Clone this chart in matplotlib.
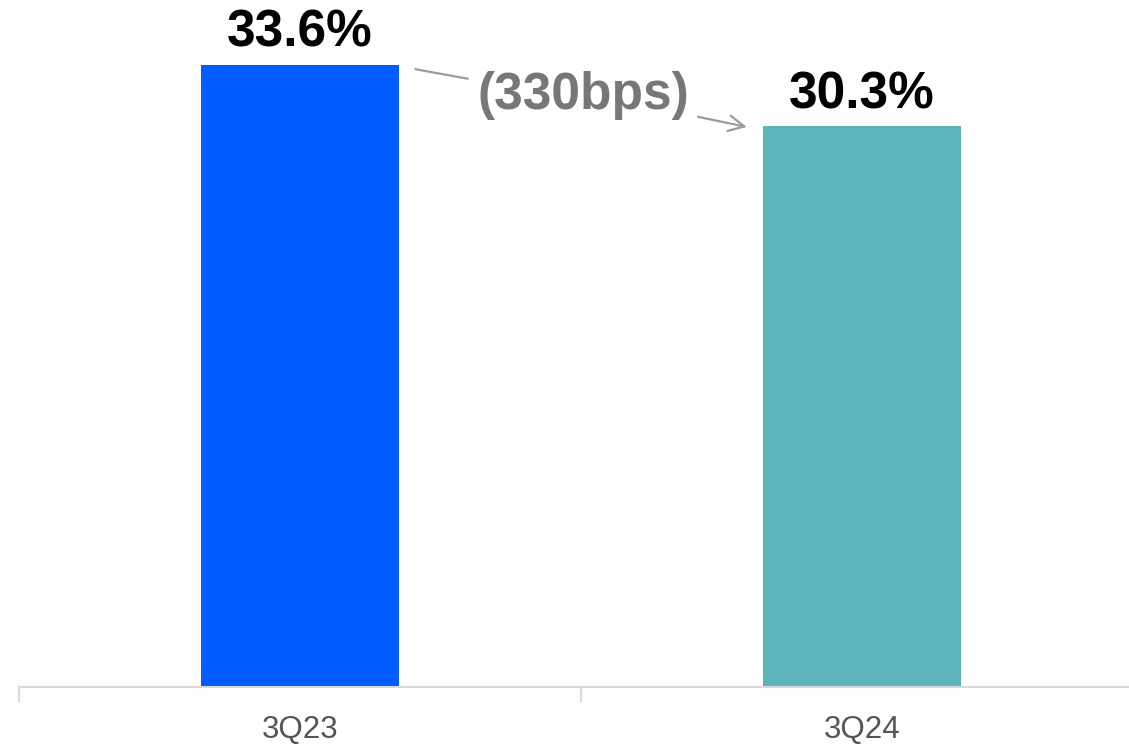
import matplotlib.pyplot as plt

categories = ["3Q23", "3Q24"]
values = [33.6, 30.3]
value_labels = ["33.6%", "30.3%"]
change_label = "(330bps)"
bar_colors = ["#005cff", "#5eb4bc"]

plt.rcParams['font.family'] = ['Liberation Sans', 'DejaVu Sans']

W, H = 1129, 744
fig = plt.figure(figsize=(W / 100, H / 100), dpi=100)
# axes spans from the left tick to beyond the right edge, like the original
left_px, right_px, base_px = 19, 1143, 687
ax = fig.add_axes([left_px / W, (H - base_px) / H, (right_px - left_px) / W, base_px / H])

x = list(range(len(categories)))
bars = ax.bar(x, values, width=0.354, color=bar_colors, zorder=2)
ax.set_xlim(-0.5, len(categories) - 0.5)
ax.set_ylim(0, 37.11)

for b, lab in zip(bars, value_labels):
    ax.annotate(lab, (b.get_x() + b.get_width() / 2, b.get_height()),
                xytext=(0, 13), textcoords='offset points',
                ha='center', va='baseline', fontsize=37, fontweight='bold', color='black')

# change annotation between the bars
r0 = bars[0].get_x() + bars[0].get_width()
l1 = bars[1].get_x()
ax.plot([r0 + 0.027, r0 + 0.123], [values[0] - 0.22, values[0] - 0.75],
        color='#9b9b9b', lw=1.6, solid_capstyle='butt')
ax.annotate('', xy=(l1 - 0.028, values[1] - 0.05), xytext=(l1 - 0.115, values[1] + 0.5),
            arrowprops=dict(arrowstyle='->', color='#9b9b9b', lw=1.6,
                            mutation_scale=28, shrinkA=0, shrinkB=0))
ax.text((r0 + l1) / 2 + 0.005, (values[0] + values[1]) / 2 + 0.02, change_label,
        ha='center', va='center', fontsize=37, fontweight='bold', color='#75787b')

for s in ['top', 'right', 'left']:
    ax.spines[s].set_visible(False)
ax.spines['bottom'].set_color('#d9d9d9')
ax.spines['bottom'].set_linewidth(1.5)
ax.set_yticks([])
ax.set_xticks([-0.5, 0.5], minor=False)
ax.set_xticklabels(['', ''])
ax.tick_params(axis='x', length=11, width=1.5, color='#d9d9d9')
for xi, c in zip(x, categories):
    ax.annotate(c, (xi, 0), xytext=(0, -43), textcoords='offset pixels',
                ha='center', va='center', fontsize=22.5, color='#555555',
                annotation_clip=False)

fig.savefig('out.png', dpi=100)
